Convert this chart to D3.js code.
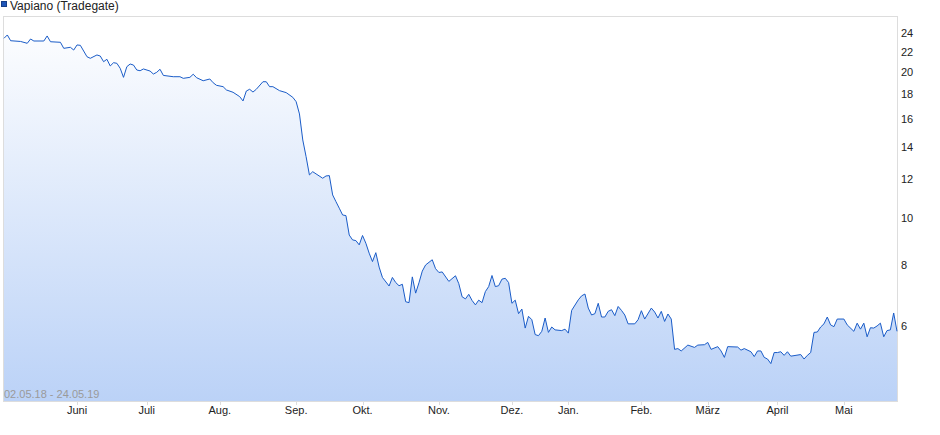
<!DOCTYPE html>
<html>
<head>
<meta charset="utf-8">
<script src="https://cdn.jsdelivr.net/npm/d3@7"></script>
<style>
  body { margin: 0; background: #fff; }
  svg { display: block; font-family: Arial, "Liberation Sans", sans-serif; }
</style>
</head>
<body>
<svg width="940" height="435"></svg>
<script>
// trading sessions (index from 02.05.18) and closing prices
var sessions = [0,1,2,5,7,8,9,12,13,14,17,18,20,21,22,23,25,26,28,29,30,31,32,33,34,35,36,37,38,39,40,41,42,44,45,46,47,48,51,53,54,56,57,58,60,62,63,64,66,67,69,71,72,73,74,75,76,78,79,80,81,83,85,87,88,89,90,91,92,93,94,96,97,98,99,100,101,102,103,104,105,106,107,108,109,110,111,112,113,114,116,117,118,119,120,121,122,123,124,125,126,127,129,130,131,132,134,136,137,138,139,140,141,142,143,144,145,146,147,148,149,150,151,152,153,154,155,156,157,158,159,160,161,162,163,164,165,166,168,169,170,171,173,174,175,176,177,178,179,180,181,182,183,184,185,186,187,188,190,191,192,193,195,196,197,198,199,200,201,202,203,204,206,208,209,211,212,213,215,216,217,218,221,222,223,225,226,227,228,229,230,231,232,233,234,235,236,237,240,241,242,243,244,245,246,247,248,249,250,251,253,254,256,257,258,259,260,261,262,263,264,265,266,267,268,269];
var prices = [23.44,23.81,23.17,23.09,22.89,23.36,23.14,23.14,23.70,23.06,23.00,22.35,22.46,22.17,22.71,22.67,21.48,21.32,21.66,21.55,20.98,21.22,20.56,20.88,20.82,20.33,19.48,20.49,20.75,20.65,20.17,20.10,20.27,20.07,19.79,19.95,20.24,19.66,19.54,19.54,19.39,19.48,19.77,19.45,19.17,19.33,18.99,18.76,18.64,18.35,18.15,17.78,17.42,18.26,18.41,18.17,18.41,19.08,19.08,18.64,18.64,18.29,18.12,17.72,17.36,16.38,14.48,13.38,12.27,12.46,12.33,12.08,12.21,12.23,11.16,10.81,10.48,10.15,10.12,9.23,9.02,8.99,8.81,9.21,8.88,8.47,8.14,8.49,7.93,7.55,7.25,7.55,7.37,7.26,7.31,6.73,6.70,7.57,7.01,7.36,7.78,8.01,8.21,7.87,7.73,7.75,7.41,7.61,7.33,6.89,6.82,6.97,6.77,6.63,6.78,6.70,7.06,7.23,7.62,7.23,7.26,7.49,7.52,7.37,6.68,6.78,6.36,6.50,5.94,6.28,6.18,5.76,5.73,5.85,6.23,5.82,5.97,5.89,5.87,5.91,5.80,6.46,6.79,6.92,6.98,6.53,6.32,6.36,6.68,6.26,6.26,6.43,6.48,6.30,6.58,6.46,6.32,6.06,6.06,6.18,6.45,6.20,6.53,6.41,6.23,6.43,6.13,6.35,6.20,5.37,5.39,5.33,5.48,5.42,5.48,5.49,5.55,5.37,5.44,5.33,5.17,5.44,5.43,5.35,5.39,5.31,5.19,5.33,5.33,5.17,5.13,5.02,5.29,5.29,5.31,5.22,5.31,5.20,5.24,5.13,5.22,5.29,5.82,5.83,5.97,6.06,6.26,6.03,5.98,6.20,6.20,6.03,5.85,6.08,5.91,6.08,5.70,5.95,5.94,6.00,6.08,5.70,5.87,5.89,6.38,5.85];

var monthLabels = ["Juni","Juli","Aug.","Sep.","Okt.","Nov.","Dez.","Jan.","Feb.","März","April","Mai"];
var monthSessions = [22,43,65,88,108,131,153,170,192,212,233,253];
var yTicks = [6,8,10,12,14,16,18,20,22,24];
var seriesName = "Vapiano (Tradegate)";
var rangeLabel = "02.05.18 - 24.05.19";
var lastSession = 269;

var plot = { left: 3, right: 897, top: 16, bottom: 401 };

var data = sessions.map(function(s, i) { return { s: s, p: prices[i] }; });

var svg = d3.select("svg");

var xScale = d3.scaleLinear()
  .domain([0, lastSession])
  .range([plot.left + 1, plot.right]);

var yScale = d3.scaleLog()
  .domain([4.205, 26.05])
  .range([plot.bottom, plot.top]);

// gradient for the area
var grad = svg.append("defs").append("linearGradient")
  .attr("id", "fillGrad")
  .attr("gradientUnits", "userSpaceOnUse")
  .attr("x1", 0).attr("y1", plot.top)
  .attr("x2", 0).attr("y2", plot.bottom);
grad.append("stop").attr("offset", "0%").attr("stop-color", "#ffffff");
grad.append("stop").attr("offset", "100%").attr("stop-color", "#bbd2f7");

// frame
svg.append("rect")
  .attr("x", plot.left + 0.5)
  .attr("y", plot.top + 0.5)
  .attr("width", plot.right - plot.left)
  .attr("height", plot.bottom - plot.top)
  .attr("fill", "#fff")
  .attr("stroke", "#dddddd");

var area = d3.area()
  .x(function(d) { return xScale(d.s); })
  .y0(plot.bottom)
  .y1(function(d) { return yScale(d.p); });

var line = d3.line()
  .x(function(d) { return xScale(d.s); })
  .y(function(d) { return yScale(d.p); });

svg.append("path")
  .attr("d", area(data))
  .attr("fill", "url(#fillGrad)");

svg.append("path")
  .attr("d", line(data))
  .attr("fill", "none")
  .attr("stroke", "#1a5cc8")
  .attr("stroke-width", 1);

// y labels (right side)
var yAxis = svg.append("g")
  .attr("transform", "translate(" + (plot.right + 4) + ",0)");
yAxis.selectAll("text")
  .data(yTicks)
  .enter().append("text")
  .attr("x", 0)
  .attr("y", function(d) { return yScale(d); })
  .attr("dy", "0.35em")
  .attr("font-size", "11px")
  .attr("fill", "#222")
  .text(function(d) { return d; });

// x labels
var xAxis = svg.append("g");
xAxis.selectAll("line")
  .data(monthSessions)
  .enter().append("line")
  .attr("x1", function(d) { return Math.round(xScale(d)) + 0.5; })
  .attr("x2", function(d) { return Math.round(xScale(d)) + 0.5; })
  .attr("y1", plot.bottom + 1)
  .attr("y2", plot.bottom + 4)
  .attr("stroke", "#dddddd");
xAxis.selectAll("text")
  .data(monthSessions)
  .enter().append("text")
  .attr("x", function(d) { return xScale(d); })
  .attr("y", plot.bottom + 13)
  .attr("text-anchor", "middle")
  .attr("font-size", "11px")
  .attr("fill", "#222")
  .text(function(d, i) { return monthLabels[i]; });

// date range inside plot
svg.append("text")
  .attr("x", 4)
  .attr("y", plot.bottom - 3.5)
  .attr("font-size", "11px")
  .attr("fill", "#9a9a9a")
  .text(rangeLabel);

// legend
svg.append("rect")
  .attr("x", 1.5).attr("y", 1.5)
  .attr("width", 5).attr("height", 5)
  .attr("fill", "#1f56b8")
  .attr("stroke", "#163e86");
svg.append("text")
  .attr("x", 10)
  .attr("y", 10)
  .attr("font-size", "12px")
  .attr("fill", "#222")
  .text(seriesName);
</script>
</body>
</html>
